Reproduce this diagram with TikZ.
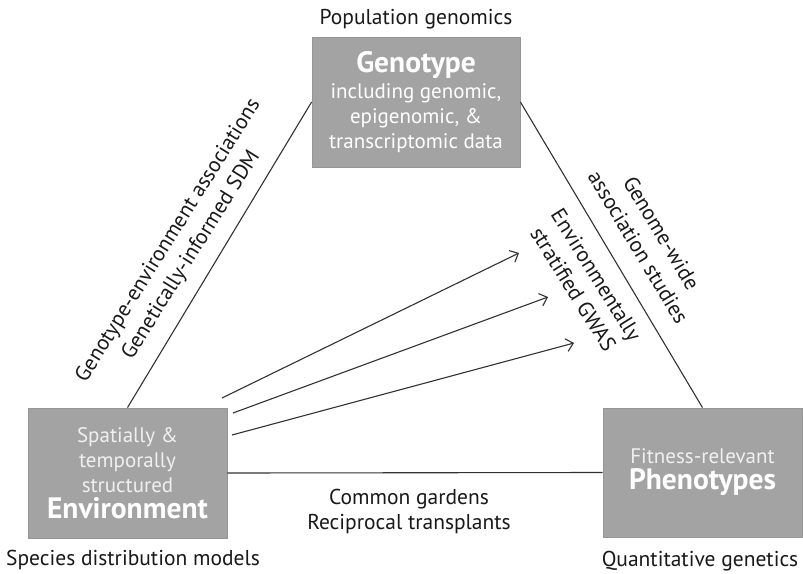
\documentclass[tikz,border=0pt]{standalone}
\usepackage{fontspec}
\setmainfont{PT Sans}
\usetikzlibrary{arrows.meta}
\definecolor{boxfill}{RGB}{163,163,163}
\definecolor{boxedge}{RGB}{150,150,150}
\definecolor{linecol}{RGB}{50,50,50}
\definecolor{txt}{RGB}{25,25,25}
\definecolor{softwhite}{RGB}{240,240,240}
\newcommand{\bigt}[1]{{\fontsize{29.5}{30}\selectfont\bfseries #1}}
\begin{document}
\begin{tikzpicture}[x=1pt,y=-1pt,
  gbox/.style={rectangle,fill=boxfill,draw=boxedge,line width=0.8pt,inner sep=0pt,
    minimum width=#1,align=center,text=white,font=\fontsize{21}{25}\selectfont},
  conn/.style={draw=linecol,line width=1.1pt},
  arr/.style={conn,-{Straight Barb[length=7pt,width=13pt,line width=1.1pt]}},
  lab/.style={text=txt,font=\fontsize{21.5}{25}\selectfont,align=center,inner sep=0pt},
  rlab/.style={lab,font=\fontsize{21.5}{27}\selectfont},
]
\useasboundingbox (0,0) rectangle (803,573);
\fill[white] (0,0) rectangle (803,573);

% boxes
\node[gbox=208pt,minimum height=130pt] (geno) at (416,102)
  {\bigt{Genotype}\\[1pt]
   including genomic,\\
   epigenomic, \&\\
   transcriptomic data};
\node[gbox=199pt,minimum height=130pt] (env) at (127.5,473)
  {\textcolor{softwhite}{Spatially \&}\\
   \textcolor{softwhite}{temporally}\\
   \textcolor{softwhite}{structured}\\[1pt]
   \bigt{Environment}};
\node[gbox=199pt,minimum height=129pt] (phen) at (702.5,472.5)
  {\textcolor{softwhite}{Fitness-relevant}\\[1pt]
   \bigt{Phenotypes}};

% outer labels
\node[lab] (popgen) at (416,19) {Population genomics};
\node[lab] (sdm) at (133,560) {Species distribution models};
\node[lab] (quant) at (700,561) {Quantitative genetics};

% triangle edges
\draw[conn] (env.north) -- (geno.west);
\draw[conn] (geno.east) -- (phen.north);
\draw[conn] (env.east) -- (phen.west);

% arrows
\coordinate (s1) at (222,398);
\coordinate (e1) at (519,253);
\coordinate (s2) at (233,413);
\coordinate (e2) at (548,297);
\coordinate (s3) at (232,435);
\coordinate (e3) at (574,343);
\draw[arr] (s1) -- (e1);
\draw[arr] (s2) -- (e2);
\draw[arr] (s3) -- (e3);

% edge labels
\node[rlab,rotate=58] (gea) at (180,248)
  {Genotype-environment associations\\Genetically-informed SDM};
\node[rlab,rotate=-59] (gwas) at (650,240)
  {Genome-wide\\association studies};
\node[rlab,rotate=-58] (egwas) at (585,282)
  {Environmentally\\stratified GWAS};
\node[lab] (cg) at (409,511)
  {Common gardens\\Reciprocal transplants};
\end{tikzpicture}
\end{document}
